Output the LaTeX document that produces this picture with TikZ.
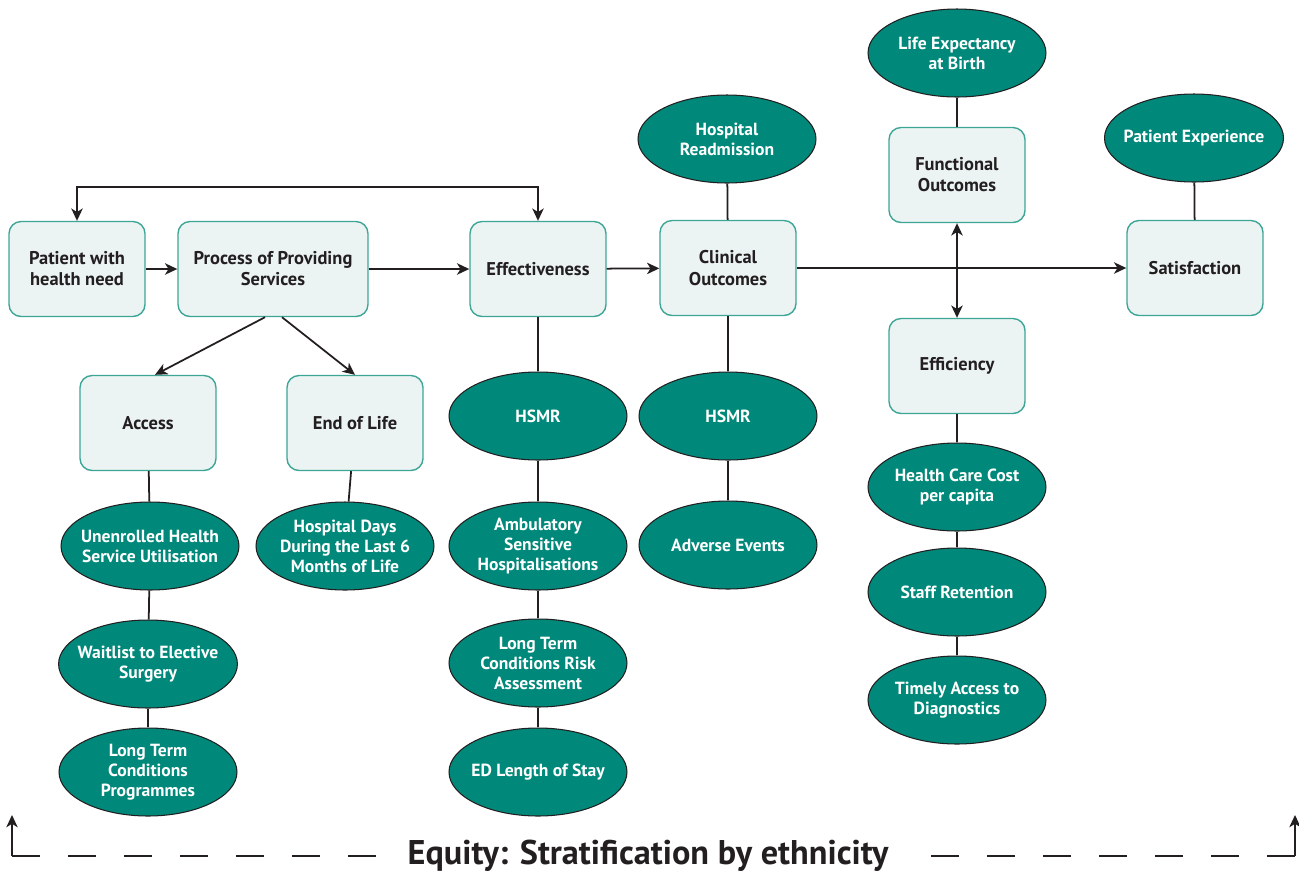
\documentclass[tikz,border=0pt]{standalone}
\usepackage{fontspec}
\setmainfont{PT Sans}
\usetikzlibrary{arrows.meta, positioning, shapes.geometric}
\usepackage{xcolor}
\definecolor{tealdark}{RGB}{0,137,122}
\definecolor{tealline}{RGB}{60,165,150}
\definecolor{boxfill}{RGB}{236,244,243}
\definecolor{inkgrey}{RGB}{35,31,32}

\begin{document}
\begin{tikzpicture}[x=0.02cm, y=-0.02cm, >={Stealth[length=7pt,width=6.5pt,inset=2pt]}, draw=inkgrey, line width=1pt]
    \tikzstyle{dimbox}=[rectangle, rounded corners=0.24cm, draw=tealline, fill=boxfill, line width=0.8pt, minimum width=2.72cm, minimum height=1.9cm, align=center, text=inkgrey, font=\bfseries\fontsize{10.5}{12}\selectfont]
    \tikzstyle{measure}=[ellipse, draw=inkgrey, fill=tealdark, line width=0.6pt, minimum width=3.56cm, minimum height=1.76cm, inner sep=0pt, inner xsep=-4pt, align=center, text=white, font=\bfseries\fontsize{10}{11.4}\selectfont]
    \tikzstyle{equityline}=[dash pattern=on 0.56cm off 0.56cm]

    \useasboundingbox (0,0) rectangle (1299,877);

    % main chain of dimensions
    \node[dimbox] (pat) at (77,269) {Patient with\\health need};
    \node[dimbox, minimum width=3.8cm] (proc) at (273,269) {Process of Providing\\Services};
    \node[dimbox] (eff) at (538,269) {Effectiveness};
    \node[dimbox] (clin) at (728,268) {Clinical\\Outcomes};
    \node[dimbox] (func) at (957,175) {Functional\\Outcomes};
    \node[dimbox] (sat) at (1195,268) {Satisfaction};
    \node[dimbox] (acc) at (148,423) {Access};
    \node[dimbox] (eol) at (355,423) {End of Life};
    \node[dimbox] (effi) at (957,366) {Efficiency};

    % measures
    \node[measure] (lifeexp) at (957,53) {Life Expectancy\\at Birth};
    \node[measure] (readm) at (727,139) {Hospital\\Readmission};
    \node[measure] (patexp) at (1194,138) {Patient Experience};
    \node[measure] (unenr) at (150,546) {Unenrolled Health\\Service Utilisation};
    \node[measure] (wait) at (148,664) {Waitlist to Elective\\Surgery};
    \node[measure] (ltcprog) at (148,772) {Long Term\\Conditions\\Programmes};
    \node[measure] (hospdays) at (345,546) {Hospital Days\\During the Last 6\\Months of Life};
    \node[measure] (hsmrA) at (538,416) {HSMR};
    \node[measure] (amb) at (538,546) {Ambulatory\\Sensitive\\Hospitalisations};
    \node[measure] (ltcrisk) at (538,663) {Long Term\\Conditions Risk\\Assessment};
    \node[measure] (edstay) at (538,772) {ED Length of Stay};
    \node[measure] (hsmrB) at (728,416) {HSMR};
    \node[measure] (adverse) at (728,545) {Adverse Events};
    \node[measure] (hccost) at (957,487) {Health Care Cost\\per capita};
    \node[measure] (staff) at (957,592) {Staff Retention};
    \node[measure] (timely) at (957,700) {Timely Access to\\Diagnostics};

    \foreach \a/\b in {acc/unenr, unenr/wait, wait/ltcprog, eol/hospdays, eff/hsmrA, hsmrA/amb, amb/ltcrisk, ltcrisk/edstay, clin/hsmrB, hsmrB/adverse, readm/clin, lifeexp/func, patexp/sat, effi/hccost, hccost/staff, staff/timely}
        \draw (\a) -- (\b);

    % arrows
    \coordinate (loop) at (300,187);
    \draw[<->] (pat.north) |- (loop) -| (eff.north);
    \draw[->] (pat) -- (proc);
    \draw[->] (proc) -- (eff);
    \draw[->] (eff) -- (clin);
    \draw[->] (clin) -- (sat);
    \draw[<->] (func) -- (effi);
    \draw[->] ([xshift=-0.16cm]proc.south) -- ([xshift=0.14cm]acc.north);
    \draw[->] ([xshift=0.18cm]proc.south) -- (eol.north);

    % equity footer
    \node[inner xsep=0.5cm, text=inkgrey, font=\bfseries\fontsize{19.5}{22}\selectfont] (equity) at (648,856) {Equity: Stratification by ethnicity};
    \coordinate (cornerL) at (12,856);
    \coordinate (tipL) at (12,815);
    \coordinate (cornerR) at (1295,856);
    \coordinate (tipR) at (1295,815);
    \draw[->, line width=0.8pt] (cornerL) -- (tipL);
    \draw[->, line width=0.8pt] (cornerR) -- (tipR);
    \draw[equityline, line width=0.8pt] (cornerL) -- (equity.west);
    \draw[equityline, line width=0.8pt] (cornerR) -- (equity.east);
\end{tikzpicture}
\end{document}
